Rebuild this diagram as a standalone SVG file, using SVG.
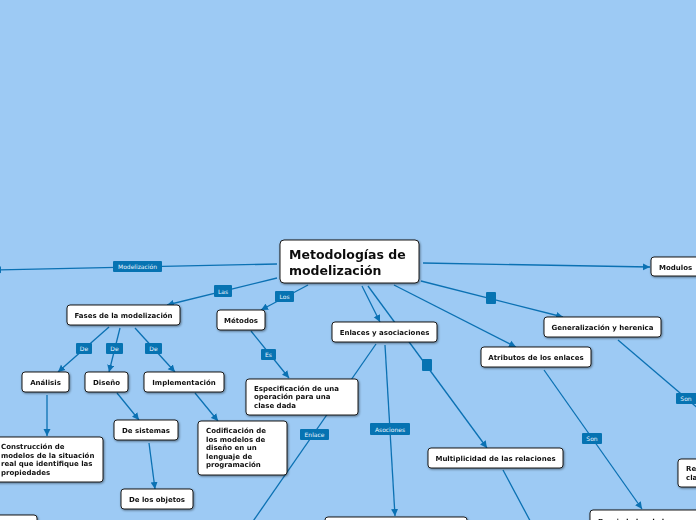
<svg xmlns="http://www.w3.org/2000/svg" width="696" height="520" viewBox="0 0 696 520">
<defs>
<style>
.bg{fill:#9dcaf4}
.c{stroke:#0b71b3;stroke-width:1.3;fill:none}
.a{marker-end:url(#ah)}
.n{fill:#fff;stroke:#1a1a1a;stroke-width:1}
.t{font-family:"DejaVu Sans",Verdana,sans-serif;font-weight:bold;font-size:7px;fill:#111}
.tc{text-anchor:middle}
.root{font-family:"DejaVu Sans",Verdana,sans-serif;font-weight:bold;font-size:12.5px;fill:#111}
.lb{fill:#0673b2}
.lt{font-family:"DejaVu Sans",Verdana,sans-serif;font-size:6px;fill:#e8f3ff;text-anchor:middle}
</style>
<marker id="ah" markerUnits="userSpaceOnUse" markerWidth="8" markerHeight="8" refX="7" refY="4" orient="auto">
<path d="M0,0.5 L7,4 L0,7.5 Z" fill="#0b71b3"/>
</marker>
<filter id="sh" x="-10%" y="-10%" width="130%" height="140%">
<feDropShadow dx="0.8" dy="1" stdDeviation="0.8" flood-color="#000" flood-opacity="0.45"/>
</filter>
</defs>
<rect class="bg" x="0" y="0" width="696" height="520"/>

<g id="connectors">
<line class="c a" x1="277" y1="264" x2="-6" y2="270"/>
<line class="c a" x1="277" y1="278" x2="167" y2="305"/>
<line class="c a" x1="308" y1="285" x2="261" y2="310"/>
<line class="c a" x1="362" y1="286" x2="380" y2="322"/>
<line class="c a" x1="368" y1="286" x2="487" y2="448"/>
<line class="c a" x1="394" y1="285" x2="516" y2="347"/>
<line class="c a" x1="421" y1="281" x2="563" y2="317"/>
<line class="c a" x1="423" y1="263" x2="650" y2="267"/>
<line class="c a" x1="109" y1="327" x2="58" y2="372"/>
<line class="c a" x1="120" y1="328" x2="109" y2="372"/>
<line class="c a" x1="135" y1="328" x2="175" y2="372"/>
<line class="c a" x1="47" y1="395" x2="47" y2="436"/>
<line class="c a" x1="117" y1="393" x2="139" y2="420"/>
<line class="c a" x1="149" y1="443" x2="155" y2="489"/>
<line class="c a" x1="195" y1="393" x2="218" y2="421"/>
<line class="c a" x1="251" y1="331" x2="289" y2="378"/>
<line class="c" x1="376" y1="344" x2="240" y2="540"/>
<line class="c a" x1="385" y1="345" x2="395" y2="516"/>
<line class="c" x1="503" y1="470" x2="535" y2="530"/>
<line class="c a" x1="544" y1="370" x2="642" y2="509"/>
<line class="c" x1="618" y1="340" x2="720" y2="427"/>

<rect class="lb" x="113" y="261" width="49" height="11" rx="1"/>
<text class="lt" x="137.5" y="269">Modelización</text>
<rect class="lb" x="214" y="285" width="18" height="12" rx="1"/>
<text class="lt" x="223" y="293.5">Las</text>
<rect class="lb" x="275" y="291" width="19" height="11" rx="1"/>
<text class="lt" x="284.5" y="299">Los</text>
<rect class="lb" x="76" y="343" width="16" height="11" rx="1"/>
<text class="lt" x="84" y="351">De</text>
<rect class="lb" x="106" y="343" width="17" height="11" rx="1"/>
<text class="lt" x="114.5" y="351">De</text>
<rect class="lb" x="145" y="343" width="17" height="11" rx="1"/>
<text class="lt" x="153.5" y="351">De</text>
<rect class="lb" x="261" y="349" width="15" height="11" rx="1"/>
<text class="lt" x="268.5" y="357">Es</text>
<rect class="lb" x="300" y="429" width="29" height="11" rx="1"/>
<text class="lt" x="314.5" y="437">Enlace</text>
<rect class="lb" x="370" y="423" width="40" height="12" rx="1"/>
<text class="lt" x="390" y="431.5">Asociones</text>
<rect class="lb" x="582" y="433" width="20" height="11" rx="1"/>
<text class="lt" x="592" y="441">Son</text>
<rect class="lb" x="676" y="393" width="21" height="11" rx="1"/>
<text class="lt" x="686" y="401">Son</text>
<rect class="lb" x="422" y="359" width="10" height="12" rx="1"/>
<rect class="lb" x="486" y="292" width="10" height="12" rx="1"/>
</g>

<g id="n-root" filter="url(#sh)">
<rect class="n" x="280" y="240" width="139" height="43" rx="4"/>
<text class="root" x="289" y="259">Metodologías de</text>
<text class="root" x="289" y="275">modelización</text>
</g>
<g id="n-modulos" filter="url(#sh)">
<rect class="n" x="651" y="257" width="60" height="19" rx="3"/>
<text class="t" x="659" y="270">Modulos</text>
</g>
<g id="n-fases" filter="url(#sh)">
<rect class="n" x="67" y="305" width="113" height="20" rx="3"/>
<text class="t tc" x="123.5" y="318">Fases de la modelización</text>
</g>
<g id="n-metodos" filter="url(#sh)">
<rect class="n" x="217" y="310" width="48" height="20" rx="3"/>
<text class="t tc" x="241" y="323">Métodos</text>
</g>
<g id="n-enlaces" filter="url(#sh)">
<rect class="n" x="332" y="322" width="105" height="20" rx="3"/>
<text class="t tc" x="384.5" y="335">Enlaces y asociaciones</text>
</g>
<g id="n-generalizacion" filter="url(#sh)">
<rect class="n" x="544" y="317" width="117" height="20" rx="3"/>
<text class="t tc" x="602.5" y="330">Generalización y herenica</text>
</g>
<g id="n-atributos" filter="url(#sh)">
<rect class="n" x="481" y="347" width="110" height="20" rx="3"/>
<text class="t tc" x="536" y="360">Atributos de los enlaces</text>
</g>
<g id="n-analisis" filter="url(#sh)">
<rect class="n" x="22" y="372" width="47" height="20" rx="3"/>
<text class="t tc" x="45.5" y="385">Análisis</text>
</g>
<g id="n-diseno" filter="url(#sh)">
<rect class="n" x="85" y="372" width="43" height="20" rx="3"/>
<text class="t tc" x="106.5" y="385">Diseño</text>
</g>
<g id="n-implementacion" filter="url(#sh)">
<rect class="n" x="144" y="372" width="80" height="20" rx="3"/>
<text class="t tc" x="184" y="385">Implementación</text>
</g>
<g id="n-especificacion" filter="url(#sh)">
<rect class="n" x="246" y="379" width="112" height="36" rx="3"/>
<text class="t" x="254" y="390.5">Especificación de una</text>
<text class="t" x="254" y="399">operación para una</text>
<text class="t" x="254" y="407.5">clase dada</text>
</g>
<g id="n-sistemas" filter="url(#sh)">
<rect class="n" x="114" y="420" width="64" height="20" rx="3"/>
<text class="t tc" x="146" y="433">De sistemas</text>
</g>
<g id="n-codificacion" filter="url(#sh)">
<rect class="n" x="198" y="421" width="89" height="54" rx="3"/>
<text class="t" x="206" y="433">Codificación de</text>
<text class="t" x="206" y="441.5">los modelos de</text>
<text class="t" x="206" y="450">diseño en un</text>
<text class="t" x="206" y="458.5">lenguaje de</text>
<text class="t" x="206" y="467">programación</text>
</g>
<g id="n-construccion" filter="url(#sh)">
<rect class="n" x="-6" y="437" width="109" height="45" rx="3"/>
<text class="t" x="1" y="449">Construcción de</text>
<text class="t" x="1" y="457.5">modelos de la situación</text>
<text class="t" x="1" y="466">real que identifique las</text>
<text class="t" x="1" y="474.5">propiedades</text>
</g>
<g id="n-multiplicidad" filter="url(#sh)">
<rect class="n" x="428" y="448" width="135" height="20" rx="3"/>
<text class="t tc" x="495.5" y="461">Multiplicidad de las relaciones</text>
</g>
<g id="n-objetos" filter="url(#sh)">
<rect class="n" x="121" y="489" width="72" height="20" rx="3"/>
<text class="t tc" x="157" y="502">De los objetos</text>
</g>
<g id="n-bottom-left" filter="url(#sh)">
<rect class="n" x="-20" y="515" width="57" height="30" rx="3"/>
</g>
<g id="n-bottom-mid" filter="url(#sh)">
<rect class="n" x="325" y="517" width="142" height="30" rx="3"/>
</g>
<g id="n-propiedades" filter="url(#sh)">
<rect class="n" x="590" y="510" width="120" height="40" rx="3"/>
<text class="t" x="598" y="524">Propiedades de los</text>
</g>
<g id="n-relaciones" filter="url(#sh)">
<rect class="n" x="678" y="459" width="60" height="28" rx="3"/>
<text class="t" x="686" y="471">Relaciones</text>
<text class="t" x="686" y="480">clases</text>
</g>
</svg>
